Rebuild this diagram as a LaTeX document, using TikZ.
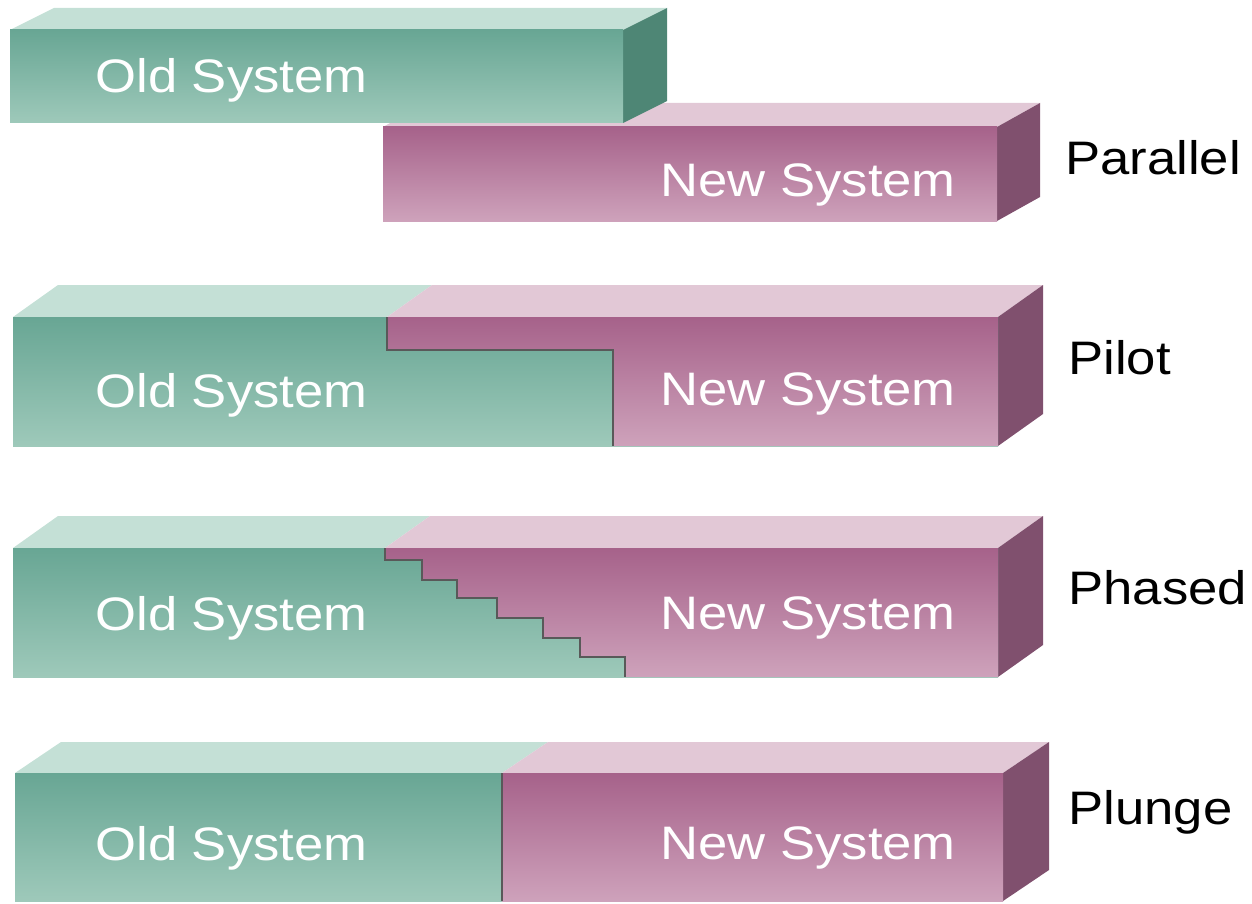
\documentclass[tikz,border=0pt]{standalone}
\usepackage{fontspec}
\setmainfont[FakeStretch=1.12]{Liberation Sans}
\usetikzlibrary{positioning}
\definecolor{oldtop}{RGB}{104,166,148}
\definecolor{oldbot}{RGB}{158,201,186}
\definecolor{oldlid}{RGB}{196,224,214}
\definecolor{oldside}{RGB}{78,134,117}
\definecolor{newtop}{RGB}{166,98,138}
\definecolor{newbot}{RGB}{206,162,187}
\definecolor{newlid}{RGB}{226,200,214}
\definecolor{newside}{RGB}{128,80,110}
\tikzset{
oldface/.style={top color=oldtop,bottom color=oldbot,draw=none},
newface/.style={top color=newtop,bottom color=newbot,draw=none},
oldlidf/.style={fill=oldlid,draw=none},
newlidf/.style={fill=newlid,draw=none},
oldsidef/.style={fill=oldside,draw=none},
newsidef/.style={fill=newside,draw=none},
split/.style={draw=black!65,line width=1.4pt},
inlbl/.style={anchor=base west,inner sep=0pt,text=white,font=\fontsize{23.5}{28}\selectfont},
lbl/.style={anchor=base west,inner sep=0pt,text=black,font=\fontsize{23.5}{28}\selectfont}
}
\begin{document}
\begin{tikzpicture}[x=0.5pt,y=-0.5pt]
    \useasboundingbox (0,0) rectangle (1252,904);
    % parallel: new bar first, old bar over it
    \fill[newlidf] (383,127) -- (426,103) -- (1040,103) -- (997,127) -- cycle;
    \fill[newsidef] (997,127) -- (1040,103) -- (1040,197) -- (997,221) -- cycle;
    \shade[newface] (383,127) rectangle (997,221);
    \fill[oldlidf] (10,30) -- (54,8) -- (667,8) -- (623,30) -- cycle;
    \fill[oldsidef] (623,30) -- (667,8) -- (667,101) -- (623,123) -- cycle;
    \shade[oldface] (10,30) rectangle (623,123);
    \node[inlbl] (old1) at (95,93) {Old System};
    \node[inlbl] (new1) at (660,196) {New System};
    \node[lbl] (parallel) at (1065,174) {Parallel};
    % pilot
    \fill[oldlidf] (13,317) -- (58,285) -- (432,285) -- (387,317) -- cycle;
    \fill[newlidf] (387,317) -- (432,285) -- (1043,285) -- (998,317) -- cycle;
    \fill[newsidef] (998,317) -- (1043,285) -- (1043,414) -- (998,446) -- cycle;
    \shade[oldface] (13,317) rectangle (998,446);
    \shade[newface] (387,317) -- (387,350) -- (613,350) -- (613,446) -- (998,446) -- (998,317) -- cycle;
    \draw[split] (387,317) -- (387,350) -- (613,350) -- (613,446);
    \node[inlbl] (old2) at (95,407) {Old System};
    \node[inlbl] (new2) at (660,405) {New System};
    \node[lbl] (pilot) at (1068,374) {Pilot};
    % phased
    \fill[oldlidf] (13,548) -- (58,516) -- (430,516) -- (385,548) -- cycle;
    \fill[newlidf] (385,548) -- (430,516) -- (1043,516) -- (998,548) -- cycle;
    \fill[newsidef] (998,548) -- (1043,516) -- (1043,645) -- (998,677) -- cycle;
    \shade[oldface] (13,548) rectangle (998,677);
    \shade[newface] (385,548) -- (385,560) -- (422,560) -- (422,580) -- (457,580) -- (457,598)
      -- (497,598) -- (497,618) -- (543,618) -- (543,638) -- (580,638) -- (580,657)
      -- (625,657) -- (625,677) -- (998,677) -- (998,548) -- cycle;
    \draw[split] (385,548) -- (385,560) -- (422,560) -- (422,580) -- (457,580) -- (457,598)
      -- (497,598) -- (497,618) -- (543,618) -- (543,638) -- (580,638) -- (580,657)
      -- (625,657) -- (625,677);
    \node[inlbl] (old3) at (95,630) {Old System};
    \node[inlbl] (new3) at (660,629) {New System};
    \node[lbl] (phased) at (1068,604) {Phased};
    % plunge
    \fill[oldlidf] (15,773) -- (61,742) -- (548,742) -- (502,773) -- cycle;
    \fill[newlidf] (502,773) -- (548,742) -- (1049,742) -- (1003,773) -- cycle;
    \fill[newsidef] (1003,773) -- (1049,742) -- (1049,870) -- (1003,901) -- cycle;
    \shade[oldface] (15,773) rectangle (502,901);
    \shade[newface] (502,773) rectangle (1003,901);
    \draw[split] (502,773) -- (502,901);
    \node[inlbl] (old4) at (95,860) {Old System};
    \node[inlbl] (new4) at (660,859) {New System};
    \node[lbl] (plunge) at (1068,824) {Plunge};
\end{tikzpicture}
\end{document}
